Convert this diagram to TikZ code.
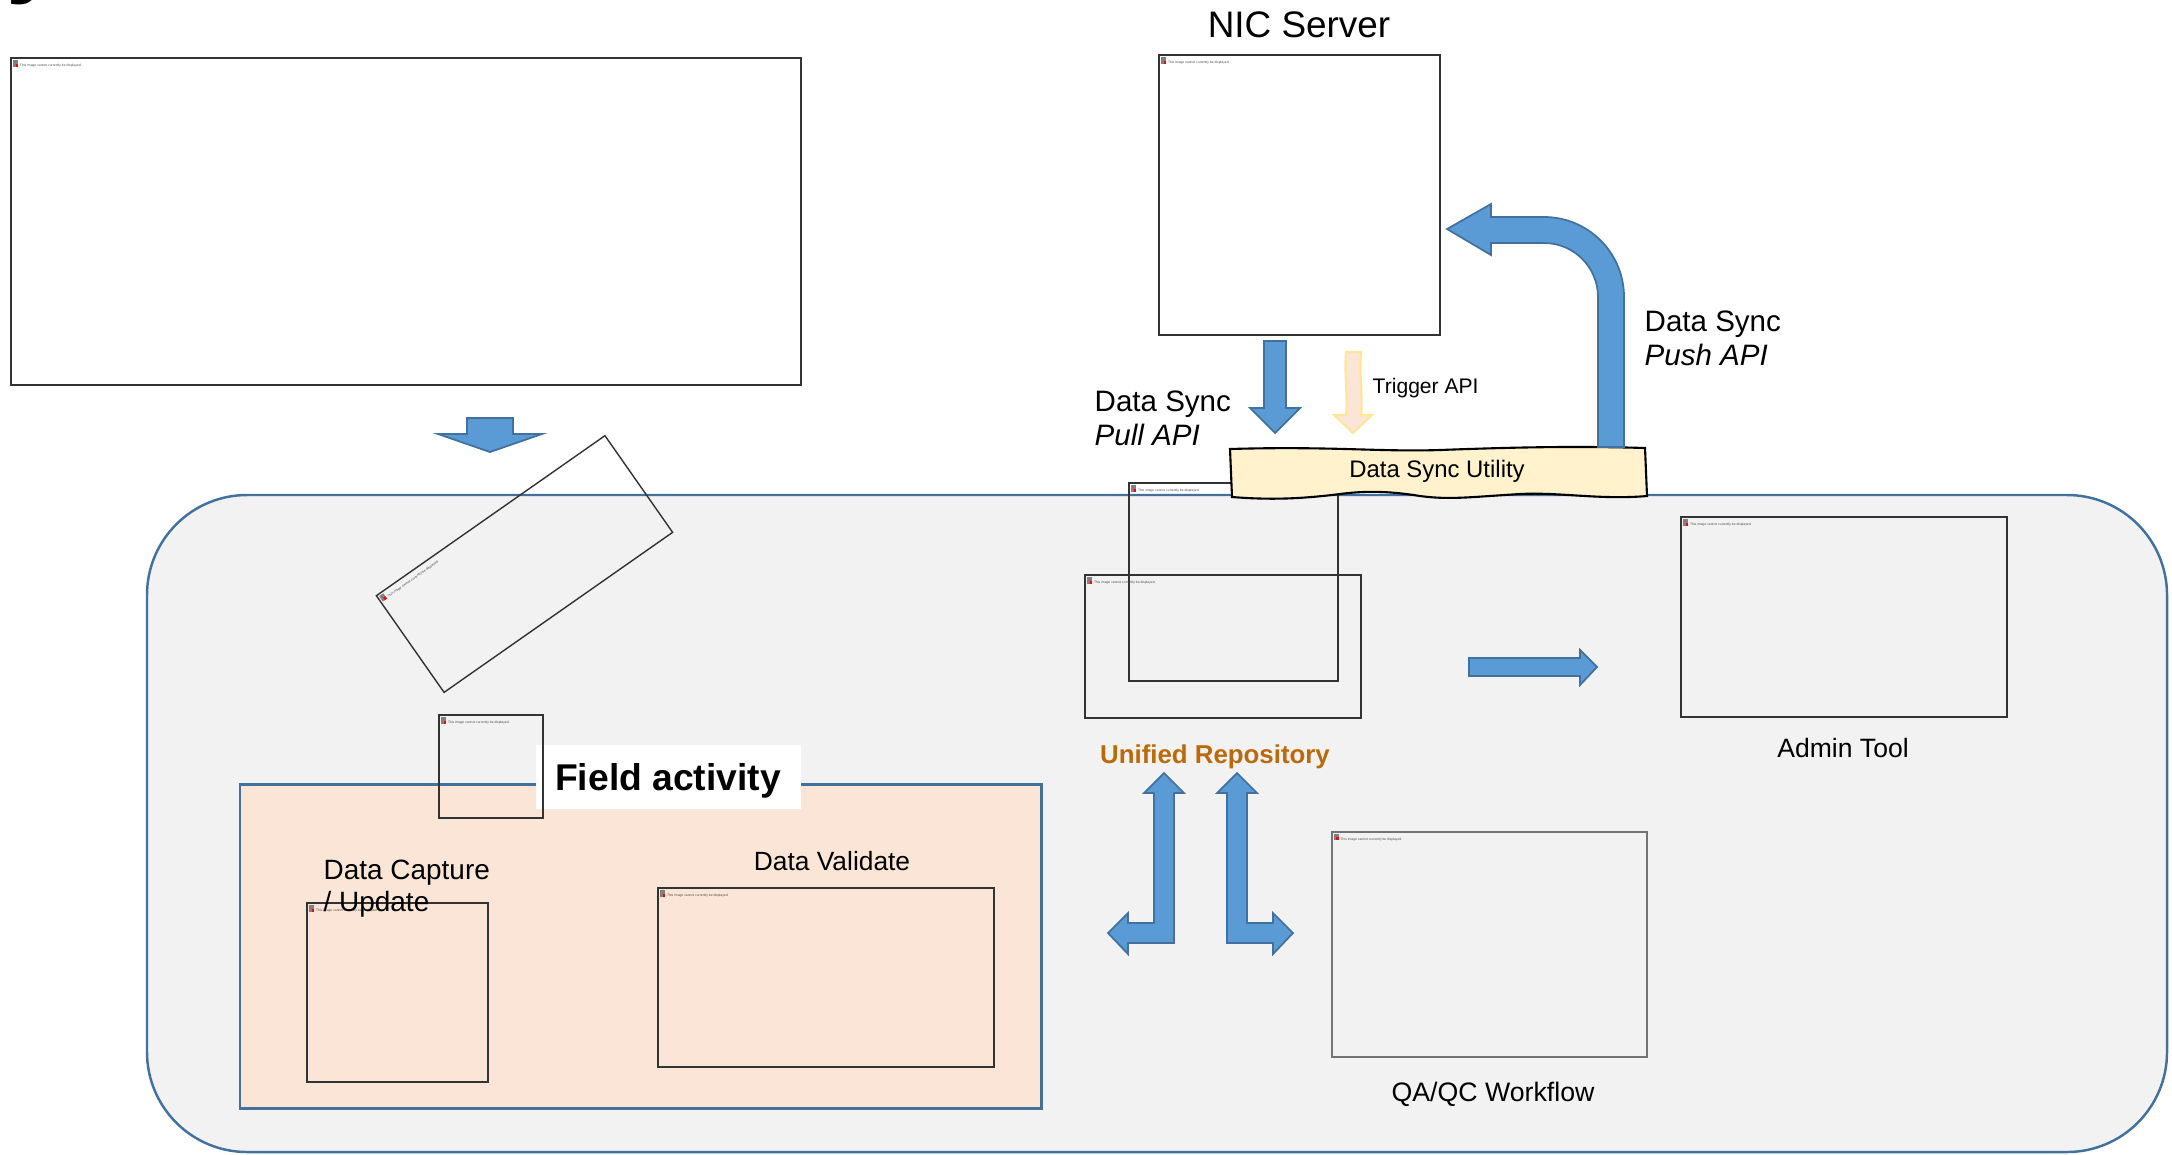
\documentclass[tikz,border=0pt]{standalone}
\usepackage{fontspec}
\setmainfont{Liberation Sans}
\usetikzlibrary{positioning}
\definecolor{areagray}{HTML}{F2F2F2}
\definecolor{lineblue}{HTML}{41719C}
\definecolor{fieldpeach}{HTML}{FBE5D6}
\definecolor{arrowblue}{HTML}{5B9BD5}
\definecolor{utilcream}{HTML}{FFF2CC}
\definecolor{triggeryellow}{HTML}{FFE699}
\definecolor{repobrown}{HTML}{B96A0A}
\newcommand{\AreaColor}{areagray}
\newcommand{\FieldColor}{fieldpeach}
\newcommand{\SyncColor}{arrowblue}
\newcommand{\UtilityColor}{utilcream}
\newcommand{\NoImage}{\textcolor{gray}{\rule{0.05cm}{0.065cm}}\hspace{-0.025cm}\textcolor{red}{\rule{0.025cm}{0.03cm}}\hspace{0.02cm}This image cannot currently be displayed.}

\begin{document}
\begin{tikzpicture}[
	% Define styles and settings
	imgbox/.style={rectangle, draw=black!80, line width=0.4pt, inner sep=0pt},
	noimg/.style={anchor=north west, inner sep=0.02cm, text=black!70, font=\fontsize{0.95}{1.1}\selectfont},
	blockarrow/.style={fill=\SyncColor, draw=lineblue, line width=0.5pt, line join=miter},
	label/.style={inner sep=0pt, font=\fontsize{8.4}{9.7}\selectfont}
	]
	\useasboundingbox (0,0) rectangle (21.72,-11.54);
	% \draw[help lines] (0,0) grid (21,-11);

	\node[anchor=base west, inner sep=0pt, font=\bfseries\fontsize{28}{30}\selectfont] (TitleCut) at (0.06,0.16) {y};

	\draw (4.06,-2.215) node[imgbox, minimum width=7.90cm, minimum height=3.27cm] (Survey) {};
	\node[noimg] (SurveyNote) at (Survey.north west) {\NoImage};
	\draw[blockarrow] (4.67,-4.18) -- (5.13,-4.18) -- (5.13,-4.34) -- (5.42,-4.34) -- (4.90,-4.52) -- (4.38,-4.34) -- (4.67,-4.34) -- cycle;

	% mobile platform
	\draw (11.57,-8.235) node[minimum width=20.2cm, minimum height=6.57cm, draw=lineblue, line width=0.7pt, fill=\AreaColor, rounded corners=1cm] (Platform) {};

	\draw (5.245,-5.64) node[imgbox, rotate=35, minimum width=2.79cm, minimum height=1.18cm] (Tilted) {};
	\node[noimg, rotate=35] (TiltedNote) at (Tilted.north west) {\NoImage};

	\draw (6.405,-9.46) node[minimum width=8.01cm, minimum height=3.24cm, draw=lineblue, line width=0.85pt, fill=\FieldColor] (Field) {};
	\draw (6.685,-7.77) node[minimum width=2.65cm, minimum height=0.64cm, fill=white] (FieldTitle) {};
	\node[inner sep=0pt, font=\bfseries\fontsize{10.6}{12}\selectfont] (FieldText) at (6.68,-7.81) {Field activity};
	\draw (4.91,-7.665) node[imgbox, minimum width=1.04cm, minimum height=1.03cm] (Device) {};
	\node[noimg] (DeviceNote) at (Device.north west) {\NoImage};

	\draw (3.975,-9.925) node[imgbox, minimum width=1.81cm, minimum height=1.79cm] (Capture) {};
	\node[noimg] (CaptureNote) at (Capture.north west) {\NoImage};
	\node[label, anchor=west, align=left, font=\fontsize{7.95}{9.1}\selectfont] (CaptureText) at (3.23,-8.885) {Data Capture\\/ Update};
	\draw (8.26,-9.775) node[imgbox, minimum width=3.36cm, minimum height=1.79cm] (Validate) {};
	\node[noimg] (ValidateNote) at (Validate.north west) {\NoImage};
	\node[label, font=\fontsize{7.5}{9}\selectfont] (ValidateText) at (8.32,-8.61) {Data Validate};

	% server side
	\draw (12.995,-1.95) node[imgbox, minimum width=2.81cm, minimum height=2.80cm] (NICServer) {};
	\node[noimg] (NICServerNote) at (NICServer.north west) {\NoImage};
	\node[label, font=\fontsize{10.5}{12}\selectfont] (NICText) at (12.99,-0.25) {NIC Server};

	\draw[blockarrow] (12.64,-3.41) -- (12.86,-3.41) -- (12.86,-4.08) -- (13.00,-4.08) -- (12.75,-4.33) -- (12.50,-4.08) -- (12.64,-4.08) -- cycle;
	\node[label, anchor=west, align=left] (PullText) at (10.94,-4.18) {Data Sync\\\textit{Pull API}};
	\draw[fill=fieldpeach, draw=triggeryellow, line width=0.6pt] (13.46,-3.52) -- (13.61,-3.52) .. controls (13.59,-3.75) and (13.63,-3.95) .. (13.61,-4.15) -- (13.72,-4.15) -- (13.53,-4.33) -- (13.34,-4.15) -- (13.46,-4.15) .. controls (13.48,-3.95) and (13.44,-3.75) .. cycle;
	\node[label, anchor=west, font=\fontsize{6}{7}\selectfont] (TriggerText) at (13.72,-3.88) {Trigger API};

	\draw (12.335,-5.82) node[imgbox, minimum width=2.09cm, minimum height=1.98cm] (RepoBack) {};
	\node[noimg] (RepoBackNote) at (RepoBack.north west) {\NoImage};
	\draw (12.23,-6.465) node[imgbox, minimum width=2.76cm, minimum height=1.43cm] (RepoFront) {};
	\node[noimg] (RepoFrontNote) at (RepoFront.north west) {\NoImage};
	\node[label, text=repobrown, font=\bfseries\fontsize{7.35}{9}\selectfont] (RepoText) at (12.15,-7.57) {Unified Repository};

	\draw[fill=\UtilityColor, line width=0.6pt] (12.30,-4.49) .. controls (13.30,-4.46) and (13.80,-4.52) .. (14.40,-4.50) .. controls (15.20,-4.47) and (15.80,-4.46) .. (16.45,-4.48) -- (16.47,-4.96) .. controls (16.00,-5.00) and (15.60,-4.92) .. (15.20,-4.94) .. controls (14.70,-4.97) and (14.50,-5.00) .. (14.20,-4.96) .. controls (13.95,-4.92) and (13.70,-4.90) .. (13.40,-4.94) .. controls (13.00,-4.99) and (12.70,-5.00) .. (12.32,-4.97) -- cycle;
	\node[label, font=\fontsize{6.8}{8}\selectfont] (SyncUtility) at (14.37,-4.71) {Data Sync Utility};

	\draw[blockarrow] (15.98,-4.47) -- (15.98,-2.97) arc[start angle=0, end angle=90, radius=0.54] -- (14.91,-2.43) -- (14.91,-2.55) -- (14.47,-2.29) -- (14.91,-2.04) -- (14.91,-2.17) -- (15.44,-2.17) arc[start angle=90, end angle=0, radius=0.80] -- (16.24,-4.47) -- cycle;
	\node[label, anchor=west, align=left] (PushText) at (16.44,-3.38) {Data Sync\\\textit{Push API}};

	% repository to admin and QA/QC
	\draw[blockarrow] (14.69,-6.58) -- (15.80,-6.58) -- (15.80,-6.50) -- (15.97,-6.67) -- (15.80,-6.85) -- (15.80,-6.76) -- (14.69,-6.76) -- cycle;
	\draw (18.44,-6.17) node[imgbox, minimum width=3.26cm, minimum height=2.00cm] (Admin) {};
	\node[noimg] (AdminNote) at (Admin.north west) {\NoImage};
	\node[label, font=\fontsize{7.55}{9}\selectfont] (AdminText) at (18.43,-7.48) {Admin Tool};

	\draw[blockarrow] (11.64,-7.73) -- (11.84,-7.93) -- (11.74,-7.93) -- (11.74,-9.43) -- (11.28,-9.43) -- (11.28,-9.54) -- (11.08,-9.33) -- (11.28,-9.13) -- (11.28,-9.23) -- (11.54,-9.23) -- (11.54,-7.93) -- (11.44,-7.93) -- cycle;
	\draw[blockarrow] (12.37,-7.73) -- (12.57,-7.93) -- (12.47,-7.93) -- (12.47,-9.23) -- (12.73,-9.23) -- (12.73,-9.13) -- (12.93,-9.33) -- (12.73,-9.54) -- (12.73,-9.43) -- (12.27,-9.43) -- (12.27,-7.93) -- (12.17,-7.93) -- cycle;

	\draw (14.895,-9.445) node[imgbox, draw=black!55, line width=0.6pt, minimum width=3.15cm, minimum height=2.25cm] (QAQC) {};
	\node[noimg] (QAQCNote) at (QAQC.north west) {\NoImage};
	\node[label, font=\fontsize{7.6}{9}\selectfont] (QAQCText) at (14.93,-10.94) {QA/QC Workflow};

\end{tikzpicture}
\end{document}
